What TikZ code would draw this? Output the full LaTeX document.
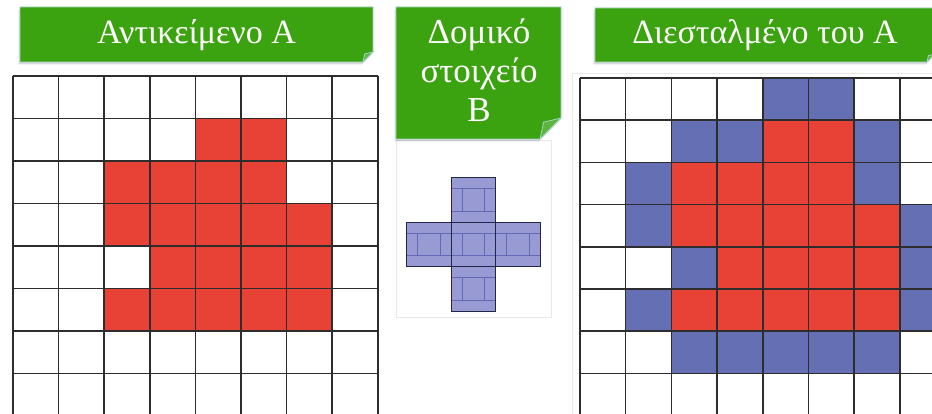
\documentclass[tikz,border=0pt]{standalone}
\usepackage{fontspec}
\setmainfont{Liberation Serif}
\usetikzlibrary{shadows}
\definecolor{tagbg}{RGB}{60,163,16}
\definecolor{tagedge}{RGB}{160,212,198}
\definecolor{cellred}{RGB}{232,66,54}
\definecolor{cellblue}{RGB}{101,111,180}
\definecolor{gridline}{RGB}{45,45,45}
\definecolor{lav}{RGB}{152,154,212}
\definecolor{lavline}{RGB}{100,103,182}
\definecolor{navyline}{RGB}{35,38,70}

% green sticky tag: x1 y1 x2 y2 curl
\newcommand{\greentag}[5]{%
  \filldraw[fill=tagbg,draw=tagedge,line width=.8pt,
    drop shadow={shadow xshift=-1.5pt,shadow yshift=-2.5pt,opacity=.3}]
    (#1,#2) -- (#3,#2) -- (#3,{#4-#5}) -- ({#3-#5},#4) -- (#1,#4) -- cycle;
  \filldraw[fill=tagbg!82!white,draw=tagedge,line width=.8pt]
    (#3,{#4-#5}) -- ({#3-.83*#5},{#4-.8*#5}) -- ({#3-#5},#4) -- cycle;}

\begin{document}
\begin{tikzpicture}[x=1pt,y=-1pt,
  tagtxt/.style={text=white,inner sep=0pt,font=\fontsize{34}{40}\selectfont},
  gline/.style={draw=gridline,line width=1.5pt},
  panel/.style={draw=black!9,line width=.6pt}]
  \useasboundingbox (0,0) rectangle (932,414);
  \clip (0,0) rectangle (932,414);
  \def\ax{13}\def\ay{76}\def\aw{45.6}\def\ah{42.5}
  \def\bx{580}\def\by{78}\def\bw{45.7}\def\bh{42.2}

  % faint panels behind the pictures
  \draw[panel] (396,140) rectangle (551,317);
  \draw[panel] (572,73) rectangle (950,430);

  % object A
  \foreach \c/\r in {4/1,5/1,2/2,3/2,4/2,5/2,2/3,3/3,4/3,5/3,6/3,3/4,4/4,5/4,6/4,2/5,3/5,4/5,5/5,6/5}
    \fill[cellred] ({\ax+\c*\aw},{\ay+\r*\ah}) rectangle ++(\aw,\ah);
  \foreach \i in {0,...,8} {
    \draw[gline] ({\ax+\i*\aw},\ay) -- ({\ax+\i*\aw},430);
    \draw[gline] (\ax,{\ay+\i*\ah}) -- ({\ax+8*\aw},{\ay+\i*\ah});
  }

  % dilated A
  \foreach \c/\r in {4/1,5/1,2/2,3/2,4/2,5/2,2/3,3/3,4/3,5/3,6/3,3/4,4/4,5/4,6/4,2/5,3/5,4/5,5/5,6/5}
    \fill[cellred] ({\bx+\c*\bw},{\by+\r*\bh}) rectangle ++(\bw,\bh);
  \foreach \c/\r in {4/0,5/0,2/1,3/1,6/1,1/2,6/2,1/3,7/3,2/4,7/4,1/5,7/5,2/6,3/6,4/6,5/6,6/6}
    \fill[cellblue] ({\bx+\c*\bw},{\by+\r*\bh}) rectangle ++(\bw,\bh);
  \foreach \i in {0,...,8} {
    \draw[gline] ({\bx+\i*\bw},\by) -- ({\bx+\i*\bw},430);
    \draw[gline] (\bx,{\by+\i*\bh}) -- ({\bx+8*\bw},{\by+\i*\bh});
  }

  % structuring element B
  \def\s{44.5}
  \foreach \dx/\dy in {0/-1,-1/0,0/0,1/0,0/1} {
    \fill[lav] ({473.5+(\dx-.5)*\s},{244.5+(\dy-.5)*\s}) coordinate (o) rectangle ++(\s,\s);
    \draw[lavline,line width=.8pt] ([yshift=-.25*\s pt]o) -- ++(\s,0)
      ([yshift=-.75*\s pt]o) -- ++(\s,0)
      ([xshift=.25*\s pt,yshift=-.25*\s pt]o) -- ++(0,.5*\s)
      ([xshift=.75*\s pt,yshift=-.25*\s pt]o) -- ++(0,.5*\s);
  }
  \foreach \dx/\dy in {0/-1,-1/0,0/0,1/0,0/1}
    \draw[navyline,line width=1pt] ({473.5+(\dx-.5)*\s},{244.5+(\dy-.5)*\s}) rectangle ++(\s,\s);

  % tags
  \greentag{20}{7}{373}{62}{10}
  \greentag{396}{7}{561}{139}{21}
  \greentag{595}{8}{935}{62}{8}
  \node[tagtxt,anchor=base] (objA) at (196.5,44) {Αντικείμενο Α};
  \node[tagtxt,anchor=base] (dilA) at (765,44) {Διεσταλμένο του Α};
  \node[tagtxt,font=\fontsize{35}{39}\selectfont,align=center] (elemB) at (479,70) {Δομικό\\στοιχείο\\Β};
\end{tikzpicture}
\end{document}
